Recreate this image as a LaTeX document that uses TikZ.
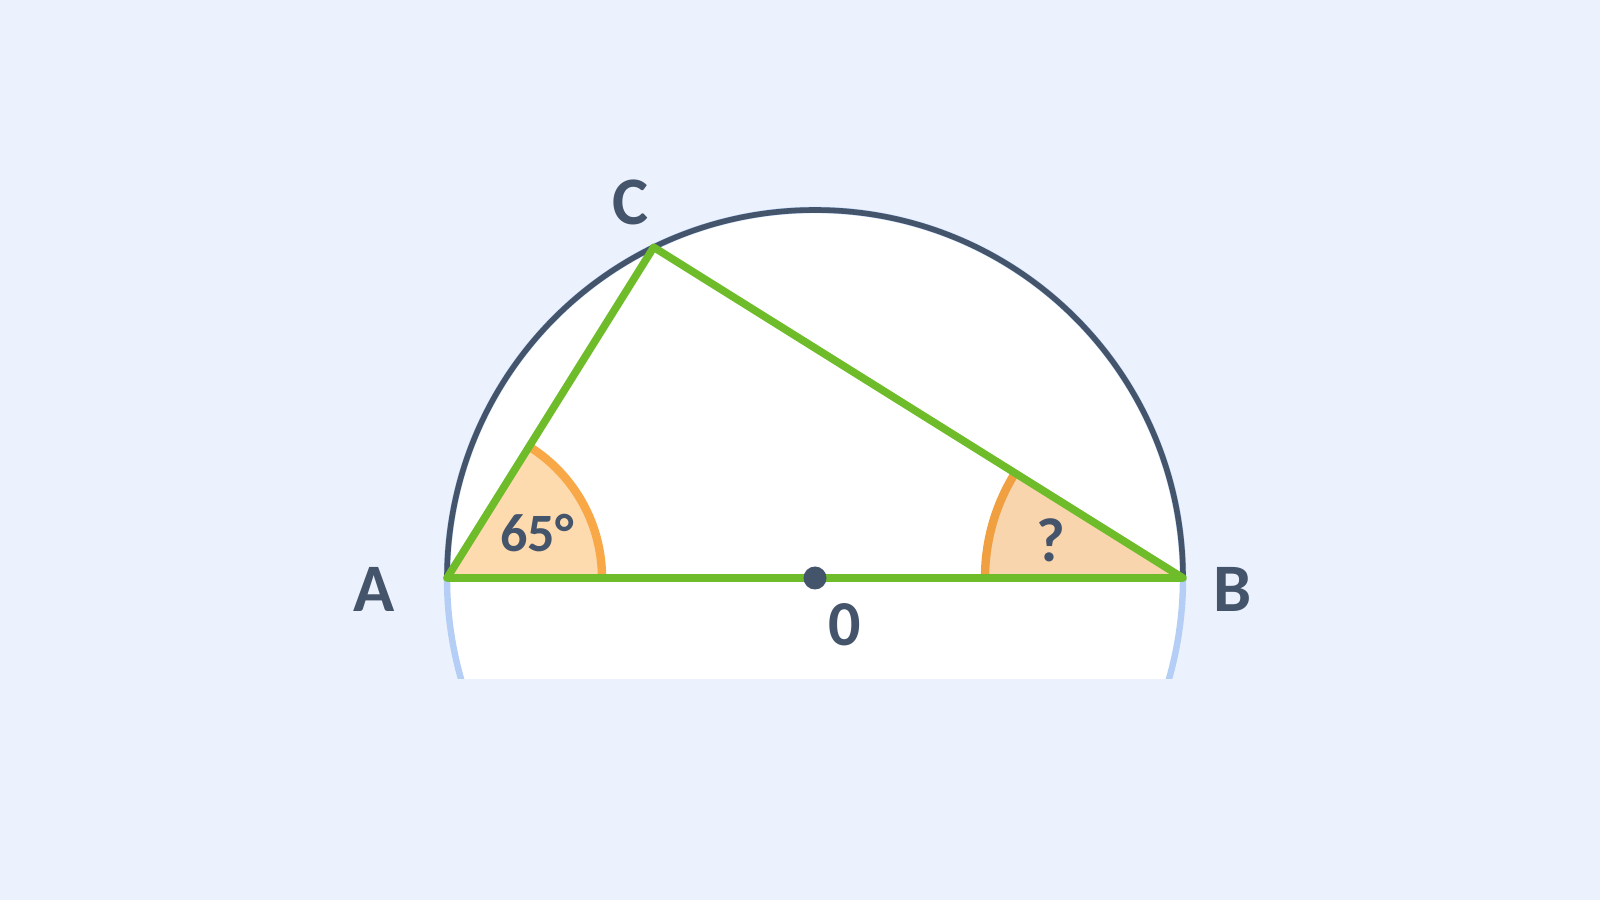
\documentclass[tikz,border=0pt]{standalone}
\usepackage{fontspec}
\setmainfont{Carlito}
\usetikzlibrary{angles}
\definecolor{bgblue}{HTML}{EBF2FD}
\definecolor{ink}{HTML}{44546A}
\definecolor{rimblue}{HTML}{B5CEF5}
\definecolor{leaf}{HTML}{6EBC2A}
\definecolor{amber}{HTML}{F8A847}
\definecolor{amberdark}{HTML}{F0A040}
\definecolor{peach}{HTML}{FEDAAF}
\definecolor{peachdark}{HTML}{F8D5AC}
\tikzset{
	side/.style={draw=leaf, line width=3.8pt, line join=round, line cap=round},
	rim/.style={draw=rimblue, line width=3.2pt},
	arcline/.style={draw=ink, line width=2.8pt},
	lbl/.style={text=ink, font=\bfseries\fontsize{34}{36}\selectfont, anchor=base, inner sep=0pt}
}
\begin{document}
\begin{tikzpicture}[x=0.5pt,y=0.5pt]
	\useasboundingbox (0,0) rectangle (1600,900);
	\fill[bgblue] (0,0) rectangle (1600,900);
	% points on the circle
	\coordinate (O) at (815,322);
	\coordinate (A) at (447,322);
	\coordinate (B) at (1183,322);
	\coordinate (C) at ([shift={(116:368)}]O);
	% disc, cut off at the bottom
	\begin{scope}
		\clip (0,222) rectangle (1600,900);
		\fill[white] (O) circle (368);
		\draw[rim] (O) circle (368);
	\end{scope}
	\draw[arcline] (B) arc (0:180:368);
	% angles
	\pic[draw=amber, fill=peach, line width=4.2pt, angle radius=77.5pt] {angle=B--A--C};
	\pic[draw=amberdark, fill=peachdark, line width=4.2pt, angle radius=99pt] {angle=C--B--A};
	% triangle
	\draw[side] (A) -- (C) -- (B) -- cycle;
	\fill[ink] (O) circle (11.5);
	% labels
	\node[lbl] (labA) at (374,288) {A};
	\node[lbl] (labB) at (1233,288) {B};
	\node[lbl] (labC) at (630,675) {C};
	\node[lbl, font=\bfseries\fontsize{32}{34}\selectfont] (labO) at (845,255) {0};
	\node[lbl, font=\bfseries\fontsize{27}{30}\selectfont] (labAng) at (537,348) {65°};
	\node[lbl, font=\bfseries\fontsize{31}{32}\selectfont] (labQ) at (1051,338) {?};
\end{tikzpicture}
\end{document}
